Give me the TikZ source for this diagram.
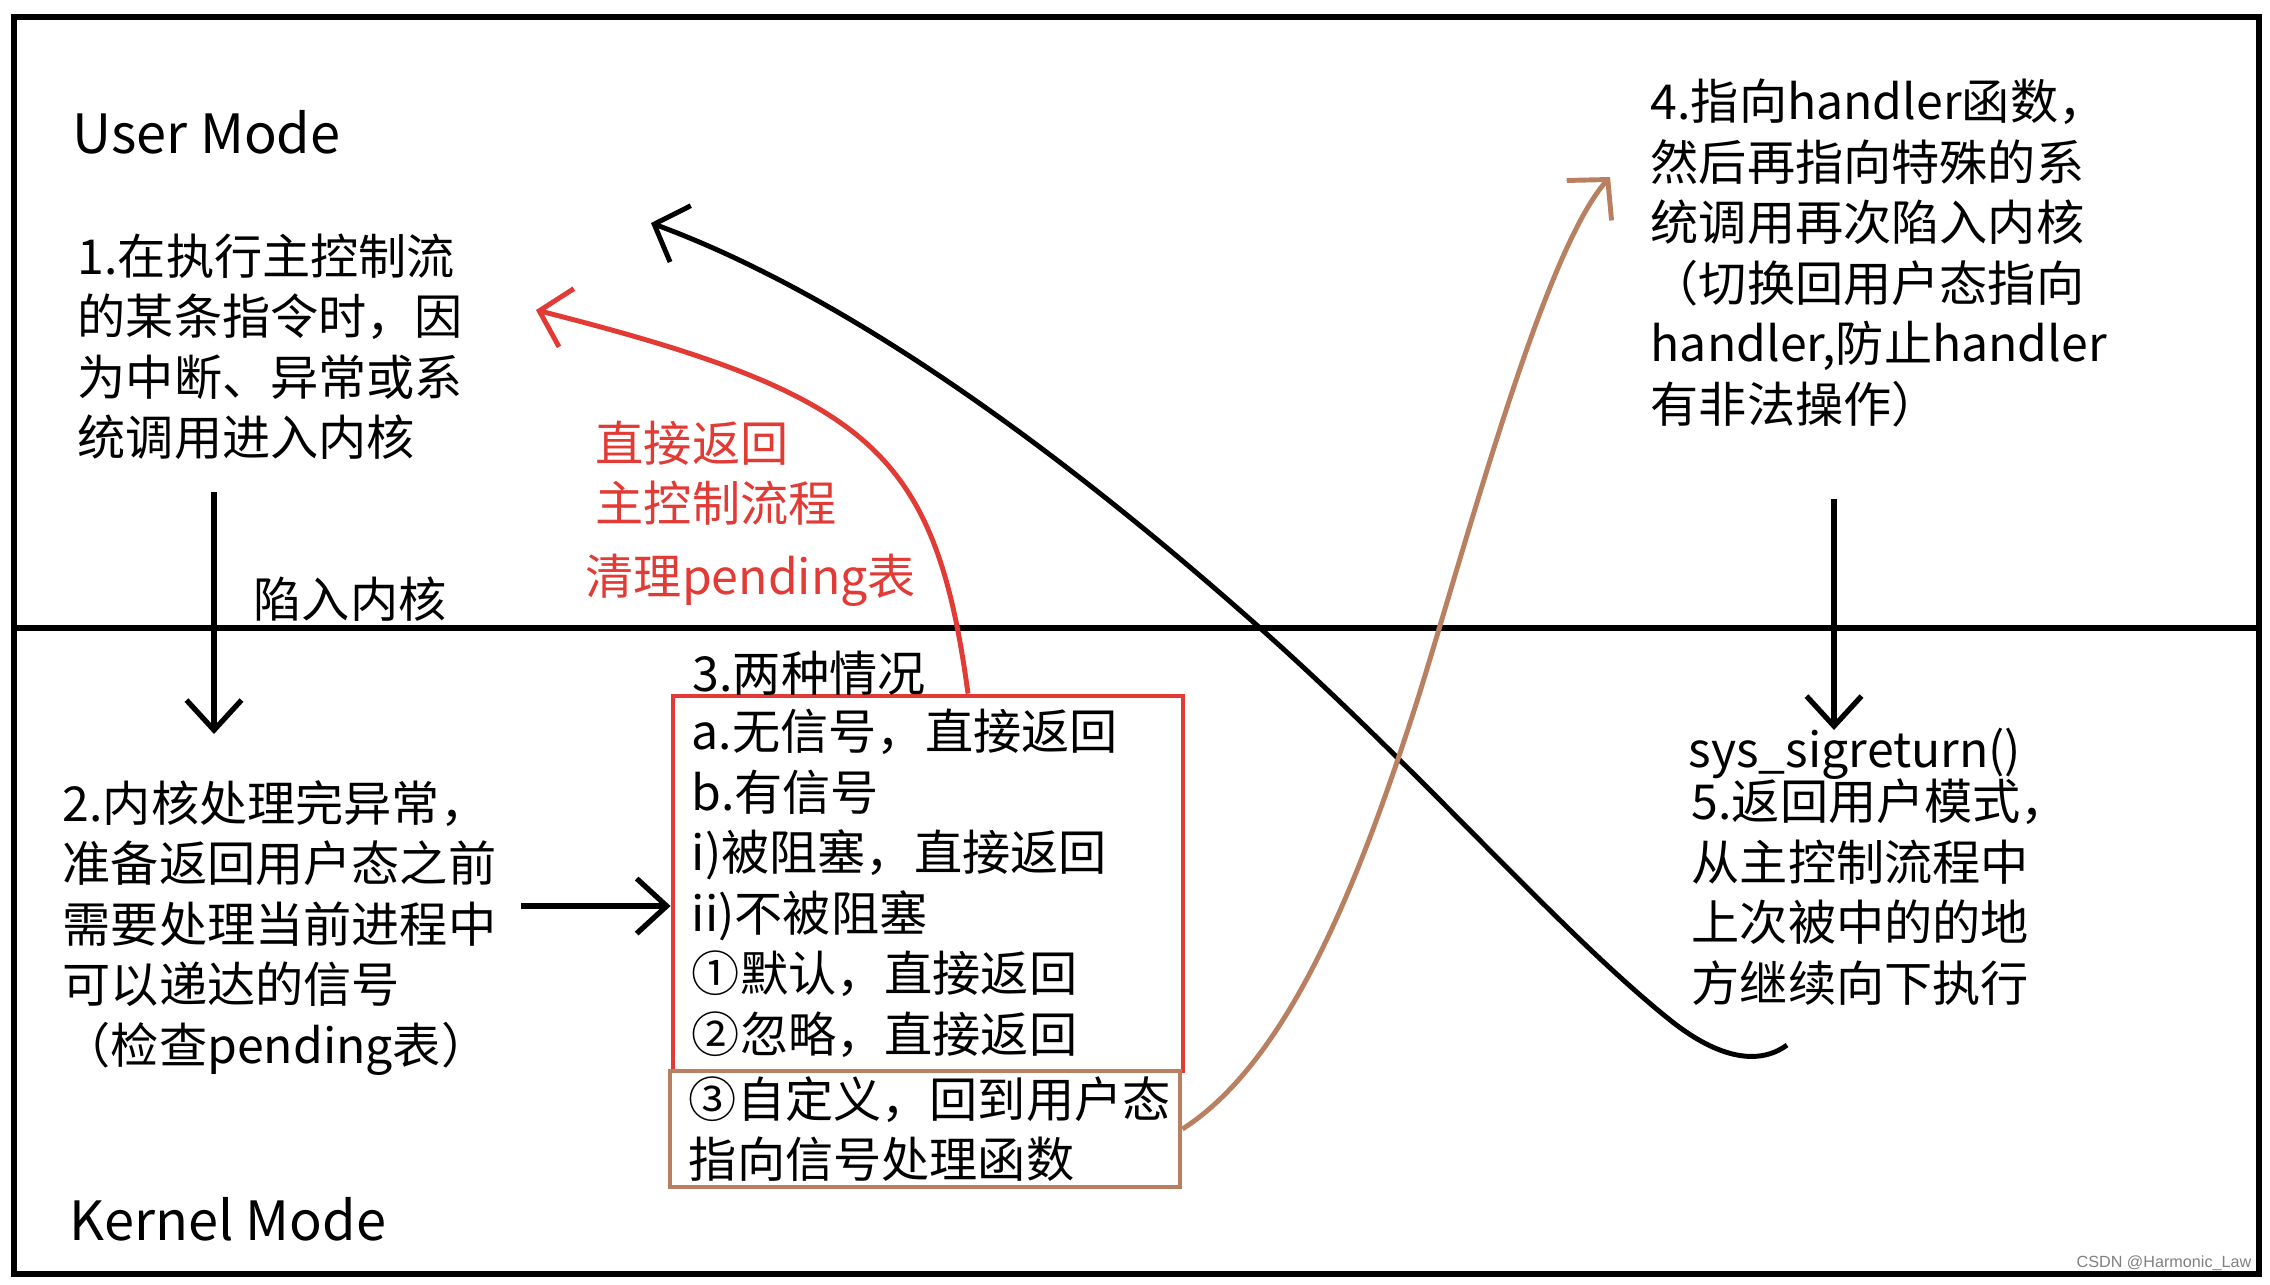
\documentclass[tikz,border=0pt]{standalone}
\usepackage{fontspec}
\usepackage{tikz}
\usetikzlibrary{arrows.meta, positioning, calc}
\newfontfamily\cjk{Noto Sans CJK SC}
\newfontfamily\wmfont{Liberation Sans}
\definecolor{sigRed}{RGB}{226,58,52}
\definecolor{sigBrown}{RGB}{184,128,96}

\begin{document}
\begin{tikzpicture}[x=0.01cm, y=-0.01cm,
    txt/.style={font=\cjk\fontsize{13.7pt}{17.2pt}\selectfont, align=left, inner sep=0pt, anchor=west},
    mode/.style={font=\cjk\fontsize{15.4pt}{18pt}\selectfont, inner sep=0pt, anchor=west},
    casebox/.style={txt, draw=#1, line width=1.3pt, anchor=center, text width=4.72cm,
                    inner xsep=0.19cm, inner ysep=0pt},
    arr/.style={-{Straight Barb[length=0.3cm, width=0.55cm]}, line width=1.5pt},
    flow/.style={-{Straight Barb[length=0.28cm, width=0.6cm]}, line width=1.4pt}
  ]
  \fill[white] (0,0) rectangle (2270,1284);
  \useasboundingbox (0,0) rectangle (2270,1284);
  % frame, user / kernel split
  \draw[line width=1.5pt] (14,17) rectangle (2259,1274);
  \draw[line width=1.5pt] (12,628) -- (2259,628);

  \node[mode] (user)   at (72,132)  {User Mode};
  \node[mode] (kernel) at (69,1219) {Kernel Mode};

  \node[txt] (interrupt) at (77,347) {1.在执行主控制流\\的某条指令时，因\\为中断、异常或系\\统调用进入内核};
  \node[txt] (trapLabel) at (253,599) {陷入内核};
  \node[txt] (kcheck) at (62,928) {2.内核处理完异常，\\准备返回用户态之前\\需要处理当前进程中\\可以递达的信号\\（检查pending表）};

  \node[casebox=sigRed, minimum height=3.75cm] (cases) at (928,883.5)
    {a.无信号，直接返回\\b.有信号\\i)被阻塞，直接返回\\ii)不被阻塞\\①默认，直接返回\\②忽略，直接返回};
  \node[casebox=sigBrown, minimum height=1.16cm] (custom) at (925,1129)
    {③自定义，回到用户态\\指向信号处理函数};
  \node[txt] (twoCases) at (692,673) {3.两种情况};

  \node[txt, text=sigRed] (retMain)   at (595,473) {直接返回\\主控制流程};
  \node[txt, text=sigRed] (cleanPend) at (585,580) {清理pending表};

  \node[txt] (handler) at (1650,253) {4.指向handler函数，\\然后再指向特殊的系\\统调用再次陷入内核\\（切换回用户态指向\\handler,防止handler\\有非法操作）};
  \node[txt] (sigret) at (1688,754) {sys\_sigreturn()};
  \node[txt] (resume) at (1691,892) {5.返回用户模式，\\从主控制流程中\\上次被中的的地\\方继续向下执行};

  \node[font=\wmfont\fontsize{4.6pt}{5pt}\selectfont, text=gray, anchor=base east, inner sep=0pt]
    (mark) at (2252,1267) {CSDN @Harmonic\_Law};

  % straight arrows
  \coordinate (trapTop) at (214,492);
  \coordinate (trapBot) at (214,734);
  \draw[arr] (trapTop) -- (trapBot);
  \coordinate (checkOut) at (521,906);
  \draw[arr] (checkOut) -- (checkOut -| cases.west);
  \coordinate (retTop) at (1834,499);
  \coordinate (retBot) at (1834,730);
  \draw[arr] (retTop) -- (retBot);

  % curved returns
  \coordinate (redTip) at (536,310);
  \draw[flow, draw=sigRed] ([xshift=0.4cm]cases.north) .. controls (935,450) and (870,395) .. (redTip);
  \coordinate (hookEnd) at (1787,1045);
  \coordinate (userTip) at (651,223);
  \draw[flow] (hookEnd) .. controls (1760,1065) and (1720,1060) .. (1670,1020)
    .. controls (1560,932) and (1420,770) .. (1260,628)
    .. controls (1080,468) and (860,300) .. (userTip);
  \coordinate (handlerTip) at (1610,177);
  \draw[flow, draw=sigBrown] (custom.east) .. controls (1290,1060) and (1360,880) .. (1419,695)
    .. controls (1470,530) and (1545,250) .. (handlerTip);
\end{tikzpicture}
\end{document}
